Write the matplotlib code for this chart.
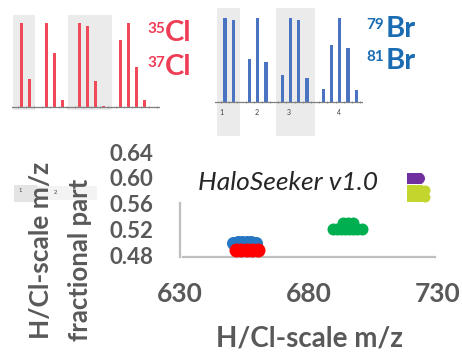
import matplotlib
matplotlib.use("Agg")
import matplotlib.pyplot as plt
from matplotlib.patches import Rectangle

W, H = 462, 352
fig = plt.figure(figsize=(W / 100, H / 100), dpi=100)

def rect(x0, y0, x1, y1):
    return [x0 / W, 1 - y1 / H, (x1 - x0) / W, (y1 - y0) / H]

FONT = "Lato"
GRAY = "#595959"

# ---------------- data ----------------
cl_slots = [0, 1, 3, 4, 5, 7, 8, 9, 10, 12, 13, 14, 15]
cl_heights = [1.0, 0.33, 1.0, 0.64, 0.08, 1.0, 0.96, 0.31, 0.01, 0.79, 1.0, 0.48, 0.08]
cl_bands = [(-1.06, 1.62), (5.65, 11.0)]

br_slots = [0, 1, 3, 4, 5, 7, 8, 9, 10, 12, 13, 14, 15, 16]
br_heights = [1.0, 0.98, 0.51, 1.0, 0.48, 0.32, 1.0, 0.98, 0.29, 0.15, 0.68, 1.0, 0.64, 0.14]
br_bands = [(-0.98, 1.83), (6.22, 10.98)]
br_group_labels = ["1", "2", "3", "4"]
br_group_pos = [-0.49, 3.9, 7.8, 13.9]

yticks = [0.48, 0.52, 0.56, 0.60, 0.64]
ytick_labels = ["0.48", "0.52", "0.56", "0.60", "0.64"]
xticks = [630, 680, 730]
xtick_labels = ["630", "680", "730"]

blue_mz = [650.5, 652.3, 654.1, 655.9, 657.6, 659.4]
blue_frac = [0.499, 0.4995, 0.500, 0.500, 0.4995, 0.499]
red_mz = [651.7, 653.8, 656.0, 658.1, 660.2]
red_frac = [0.488, 0.488, 0.488, 0.488, 0.488]
green_mz = [689.3, 690.9, 692.4, 694.0, 695.5, 697.1, 698.6, 700.5, 693.2, 695.1, 697.1]
green_frac = [0.520, 0.520, 0.520, 0.520, 0.520, 0.520, 0.520, 0.520, 0.529, 0.530, 0.529]
purple_mz_sq = [720.0, 721.4]
purple_frac_sq = [0.600, 0.600]
purple_mz_o = [722.7]
purple_frac_o = [0.600]
yellow_mz_sq = [719.9, 722.2, 719.9, 722.2]
yellow_frac_sq = [0.581, 0.581, 0.570, 0.570]
yellow_mz_o = [724.9, 724.9]
yellow_frac_o = [0.581, 0.570]

# ---------------- Cl inset ----------------
axr = fig.add_axes(rect(12, 12, 160, 110))
axr.set_xlim(-1.183, 16.866)
axr.set_ylim(-0.0356, 1.127)
for b0, b1 in cl_bands:
    axr.axvspan(b0, b1, ymin=0, ymax=0.97, color="#ebebeb", lw=0, zorder=0)
axr.bar(cl_slots, cl_heights, width=0.37, color="#f04a5a", zorder=2)
axr.axhline(0, color="#7f7f7f", lw=0.9, zorder=3)
for s in ["top", "right", "left", "bottom"]:
    axr.spines[s].set_visible(False)
axr.set_yticks([])
axr.set_xticks([i - 0.5 for i in range(0, 18)])
axr.tick_params(axis="x", length=2, width=0.6, color="#909090", labelbottom=False, direction="inout")
axr.spines["bottom"].set_position(("data", 0))
axr.patch.set_alpha(0)

# ---------------- Br inset ----------------
axb = fig.add_axes(rect(215, 8, 363, 136))
axb.set_xlim(-1.22, 16.83)
axb.set_ylim(-0.411, 1.1235)
for b0, b1 in br_bands:
    axb.axvspan(b0, b1, color="#ebebeb", lw=0, zorder=0)
axb.bar(br_slots, br_heights, width=0.37, color="#4a74c2", zorder=2)
axb.axhline(0, color="#7f7f7f", lw=0.9, zorder=3)
for s in ["top", "right", "left", "bottom"]:
    axb.spines[s].set_visible(False)
axb.set_yticks([])
axb.set_xticks([i - 0.5 for i in range(0, 18)])
axb.tick_params(axis="x", length=2, width=0.6, color="#909090", labelbottom=False, direction="inout")
axb.spines["bottom"].set_position(("data", 0))
for lab, p in zip(br_group_labels, br_group_pos):
    axb.text(p, -0.132, lab, fontsize=5, color="#404040", ha="center", va="center", family=FONT)
axb.patch.set_alpha(0)

# isotope labels
RED = "#ee3d55"
BLUE = "#1a6db3"
def iso(x_num, x_el, y, num, el, color):
    fig.text(x_num / W, 1 - y / H, num, fontsize=11, color=color, family=FONT,
             weight="bold", ha="left", va="baseline")
    fig.text(x_el / W, 1 - (y + 8) / H, el, fontsize=21, color=color, family=FONT,
             weight="bold", ha="left", va="baseline")

iso(147, 165, 33, "35", "Cl", RED)
iso(147, 165, 67, "37", "Cl", RED)
iso(366, 386, 29, "79", "Br", BLUE)
iso(366, 386, 61, "81", "Br", BLUE)

# ---------------- main scatter ----------------
ax = fig.add_axes(rect(180, 145, 438, 257))
ax.set_xlim(630, 730)
ax.set_ylim(0.4769, 0.6509)
ax.patch.set_alpha(0)
for s in ["top", "right"]:
    ax.spines[s].set_visible(False)
for s in ["left", "bottom"]:
    ax.spines[s].set_color("#bfbfbf")
    ax.spines[s].set_linewidth(1.6)
ax.spines["bottom"].set_bounds(631, 729)
ax.spines["left"].set_bounds(0.4769, 0.5608)
ax.set_yticks(yticks)
ax.set_yticklabels(ytick_labels)
ax.set_xticks(xticks)
ax.set_xticklabels(xtick_labels)
ax.tick_params(axis="y", length=0, pad=19, labelsize=16, labelcolor=GRAY)
ax.tick_params(axis="x", length=0, pad=18, labelsize=19, labelcolor=GRAY)
for t in ax.get_xticklabels() + ax.get_yticklabels():
    t.set_family(FONT)
    t.set_weight("bold")

def px2pt(d):
    return (d * 0.72) ** 2

ax.scatter(blue_mz, blue_frac, s=px2pt(13), color="#2577c4", lw=0, zorder=3, clip_on=False)
ax.scatter(red_mz, red_frac, s=px2pt(14), color="#ff0000", lw=0, zorder=4, clip_on=False)
ax.scatter(green_mz, green_frac, s=px2pt(12), color="#00b050", lw=0, zorder=3, clip_on=False)
ax.scatter(purple_mz_sq, purple_frac_sq, s=px2pt(11), marker="s", color="#7030a0", lw=0, zorder=3)
ax.scatter(purple_mz_o, purple_frac_o, s=px2pt(11), color="#7030a0", lw=0, zorder=3)
ax.scatter(yellow_mz_sq, yellow_frac_sq, s=px2pt(10), marker="s", color="#c2d62e", lw=0, zorder=3)
ax.scatter(yellow_mz_o, yellow_frac_o, s=px2pt(10), color="#c2d62e", lw=0, zorder=3)

fig.text(288 / W, 1 - 182 / H, "HaloSeeker v1.0", fontsize=19, style="italic",
         color="#262626", family=FONT, ha="center", va="center")

fig.text(309 / W, 1 - 338 / H, "H/Cl-scale m/z", fontsize=20, color=GRAY, family=FONT,
         weight="bold", ha="center", va="center")

# y label: two rotated lines, bottom aligned
fig.patches.append(Rectangle((14 / W, 1 - 202 / H), 23 / W, 17 / H, transform=fig.transFigure,
                             color="#e4e4e4", lw=0, zorder=0))
fig.patches.append(Rectangle((37 / W, 1 - 200 / H), 60 / W, 14 / H, transform=fig.transFigure,
                             color="#f3f3f3", lw=0, zorder=0))
fig.text(20 / W, 1 - 190 / H, "1", fontsize=4, color="#404040", ha="center", va="center")
fig.text(55 / W, 1 - 193 / H, "2", fontsize=4, color="#404040", ha="center", va="center")
fig.text(41 / W, 1 - 339 / H, "H/Cl-scale m/z", fontsize=19, color=GRAY, family=FONT,
         weight="bold", rotation=90, ha="center", va="bottom")
fig.text(80 / W, 1 - 341 / H, "fractional part", fontsize=18.5, color=GRAY, family=FONT,
         weight="bold", rotation=90, ha="center", va="bottom")

fig.savefig("out.png", dpi=100)
